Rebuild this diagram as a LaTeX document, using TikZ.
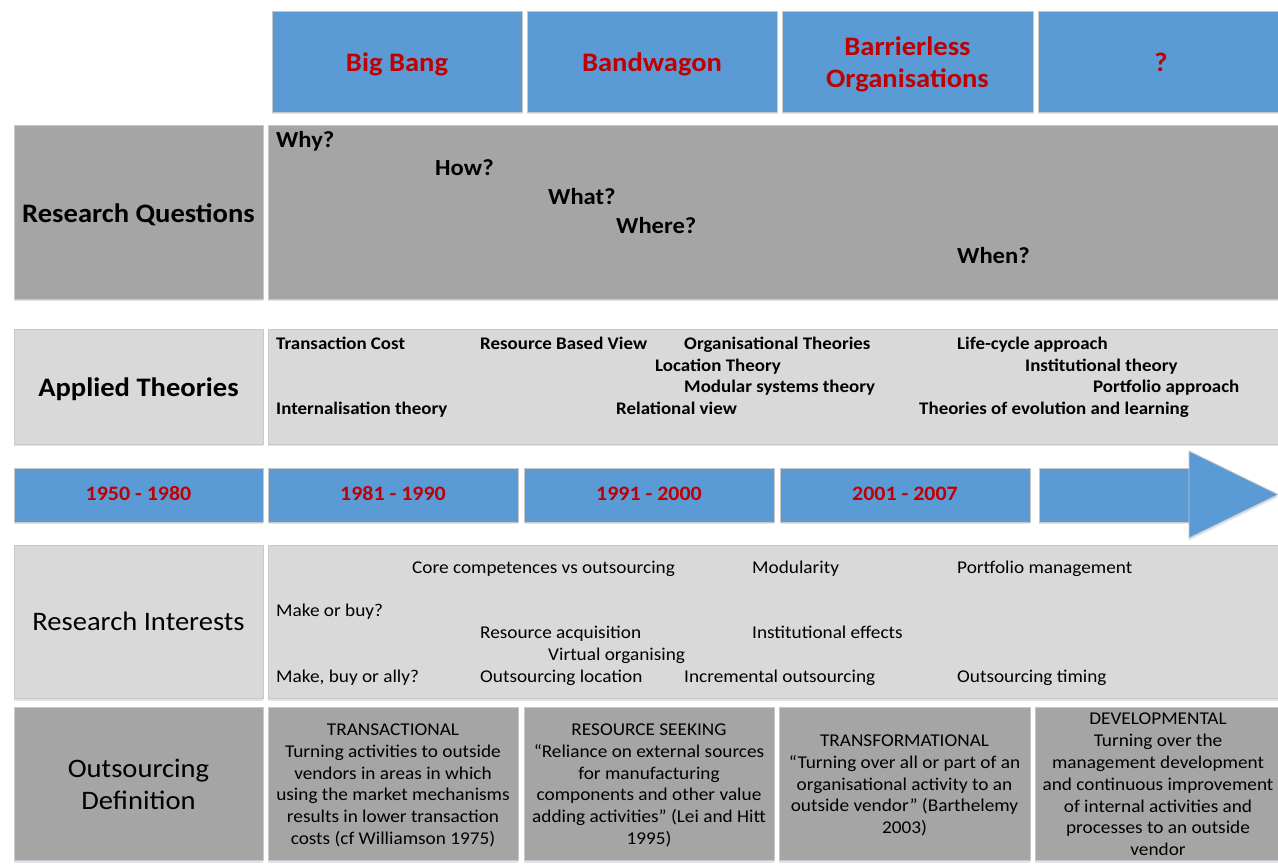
\documentclass[tikz,border=0pt]{standalone}
\usepackage{fontspec}
\setmainfont{Carlito}[FakeStretch=1.07]
\usetikzlibrary{shadows}
\definecolor{hblue}{HTML}{5B9BD5}
\definecolor{dgray}{HTML}{A5A5A5}
\definecolor{lgray}{HTML}{D9D9D9}
\definecolor{hred}{HTML}{C00000}
\definecolor{edgec}{HTML}{C8C8C8}
\definecolor{shade}{HTML}{DCE4EE}
\tikzset{
 cell/.style={draw=edgec, line width=0.8pt, inner sep=0pt, outer sep=0pt,
   drop shadow={shadow xshift=0pt, shadow yshift=-2.5pt, fill=shade, opacity=1}},
 bluecell/.style={cell, fill=hblue},
 darkcell/.style={cell, fill=dgray},
 lightcell/.style={cell, fill=lgray},
 head/.style={font=\fontsize{26.7}{32}\selectfont\bfseries, text=hred, align=center, inner sep=0pt},
 rowlabel/.style={font=\fontsize{26.7}{32}\selectfont\bfseries, align=center, inner sep=0pt},
 rowlabelreg/.style={font=\fontsize{26.7}{32}\selectfont, align=center, inner sep=0pt},
 question/.style={font=\fontsize{23}{27}\selectfont\bfseries, anchor=base west, inner sep=0pt},
 theory/.style={font=\fontsize{17.7}{21.7}\selectfont\bfseries, anchor=base west, inner sep=0pt},
 interest/.style={font=\fontsize{18}{22}\selectfont, anchor=base west, inner sep=0pt},
 year/.style={font=\fontsize{20.5}{24}\selectfont\bfseries, text=hred, inner sep=0pt, anchor=base},
 defn/.style={font=\fontsize{18}{21.8}\selectfont, align=center, inner sep=0pt},
}
\begin{document}
\begin{tikzpicture}[x=1pt,y=-1pt]
\useasboundingbox (0,0) rectangle (1278,866);
\fill[white] (0,0) rectangle (1278,866);
\begin{scope}
\clip (0,0) rectangle (1278,866);
% header row
\node[bluecell, minimum width=250pt, minimum height=101pt] (h1) at (397,61.5) {};
\node[bluecell, minimum width=250pt, minimum height=101pt] (h2) at (652,61.5) {};
\node[bluecell, minimum width=251pt, minimum height=101pt] (h3) at (907.5,61.5) {};
\node[bluecell, minimum width=250pt, minimum height=101pt] (h4) at (1163,61.5) {};
\node[head] (h1t) at ([yshift=-3pt]h1.center) {Big Bang};
\node[head] (h2t) at ([yshift=-3pt]h2.center) {Bandwagon};
\node[head] (h3t) at ([yshift=-2.5pt]h3.center) {Barrierless\\Organisations};
\node[head] (h4t) at ([yshift=-1pt,xshift=-2pt]h4.center) {?};
% research questions
\node[darkcell, minimum width=249pt, minimum height=174pt] (rql) at (138.5,212) {};
\node[rowlabel] (rqlt) at ([yshift=-3pt]rql.center) {Research Questions};
\node[darkcell, minimum width=1022pt, minimum height=174pt] (rq) at (779,212) {};
\node[question] (q1) at (276,147.5) {Why?};
\node[question] (q2) at (435,176) {How?};
\node[question] (q3) at (548,205) {What?};
\node[question] (q4) at (616,233.5) {Where?};
\node[question] (q5) at (957,264) {When?};
% applied theories
\node[lightcell, minimum width=249pt, minimum height=115pt] (atl) at (138.5,386.5) {};
\node[rowlabel] (atlt) at ([yshift=-3pt]atl.center) {Applied Theories};
\node[lightcell, minimum width=1022pt, minimum height=115pt] (at) at (779,386.5) {};
\node[theory] (t1) at (276,349.5) {Transaction Cost};
\node[theory] (t2) at (480,349.5) {Resource Based View};
\node[theory] (t3) at (684,349.5) {Organisational Theories};
\node[theory] (t4) at (957,349.5) {Life-cycle approach};
\node[theory] (t5) at (655,371.5) {Location Theory};
\node[theory] (t6) at (1025,371.5) {Institutional theory};
\node[theory] (t7) at (684,392.5) {Modular systems theory};
\node[theory] (t8) at (1093,392.5) {Portfolio approach};
\node[theory] (t9) at (276,414.5) {Internalisation theory};
\node[theory] (t10) at (616,414.5) {Relational view};
\node[theory] (t11) at (919,414.5) {Theories of evolution and learning};
% timeline
\node[bluecell, minimum width=249pt, minimum height=54pt] (y0) at (138.5,495) {};
\node[bluecell, minimum width=250pt, minimum height=54pt] (y1) at (393,495) {};
\node[bluecell, minimum width=250pt, minimum height=54pt] (y2) at (649,495) {};
\node[bluecell, minimum width=250pt, minimum height=54pt] (y3) at (905,495) {};
\node[bluecell, minimum width=150pt, minimum height=54pt] (y4) at (1114,495) {};
\filldraw[fill=hblue, draw=edgec, line width=0.8pt,
   drop shadow={shadow xshift=0pt, shadow yshift=-2.5pt, fill=shade, opacity=1}]
   (1189,451) -- (1278,494.5) -- (1189,538) -- cycle;
\node[year] (y0t) at ([yshift=-6pt]y0.center) {1950 - 1980};
\node[year] (y1t) at ([yshift=-6pt]y1.center) {1981 - 1990};
\node[year] (y2t) at ([yshift=-6pt]y2.center) {1991 - 2000};
\node[year] (y3t) at ([yshift=-6pt]y3.center) {2001 - 2007};
% research interests
\node[lightcell, minimum width=249pt, minimum height=153pt] (ril) at (138.5,621.5) {};
\node[rowlabelreg] (rilt) at (ril.center) {Research Interests};
\node[lightcell, minimum width=1022pt, minimum height=153pt] (ri) at (779,621.5) {};
\node[interest] (i1) at (412,573) {Core competences vs outsourcing};
\node[interest] (i2) at (752,573) {Modularity};
\node[interest] (i3) at (957,573) {Portfolio management};
\node[interest] (i4) at (276,616) {Make or buy?};
\node[interest] (i5) at (480,638) {Resource acquisition};
\node[interest] (i6) at (752,638) {Institutional effects};
\node[interest] (i7) at (548,660) {Virtual organising};
\node[interest] (i8) at (276,682) {Make, buy or ally?};
\node[interest] (i9) at (480,682) {Outsourcing location};
\node[interest] (i10) at (684,682) {Incremental outsourcing};
\node[interest] (i11) at (957,682) {Outsourcing timing};
% outsourcing definition
\node[darkcell, minimum width=249pt, minimum height=153pt] (odl) at (138.5,783.5) {};
\node[rowlabelreg] (odlt) at ([yshift=-1pt]odl.center) {Outsourcing\\Definition};
\node[darkcell, minimum width=250pt, minimum height=153pt] (d1) at (393,783.5) {};
\node[darkcell, minimum width=250pt, minimum height=153pt] (d2) at (649,783.5) {};
\node[darkcell, minimum width=251pt, minimum height=153pt] (d3) at (904.5,783.5) {};
\node[darkcell, minimum width=250pt, minimum height=153pt] (d4) at (1160,783.5) {};
\node[defn] (d1t) at ([yshift=-2pt]d1.center)
  {TRANSACTIONAL\\Turning activities to outside\\vendors in areas in which\\using the market mechanisms\\results in lower transaction\\costs (cf Williamson 1975)};
\node[defn] (d2t) at ([yshift=-2pt]d2.center)
  {RESOURCE SEEKING\\“Reliance on external sources\\for manufacturing\\components and other value\\adding activities” (Lei and Hitt\\1995)};
\node[defn] (d3t) at ([yshift=-2pt]d3.center)
  {TRANSFORMATIONAL\\“Turning over all or part of an\\organisational activity to an\\outside vendor” (Barthelemy\\2003)};
\node[defn] (d4t) at ([yshift=-1pt,xshift=-2pt]d4.center)
  {DEVELOPMENTAL\\Turning over the\\management development\\and continuous improvement\\of internal activities and\\processes to an outside\\vendor};
\end{scope}
\end{tikzpicture}
\end{document}
